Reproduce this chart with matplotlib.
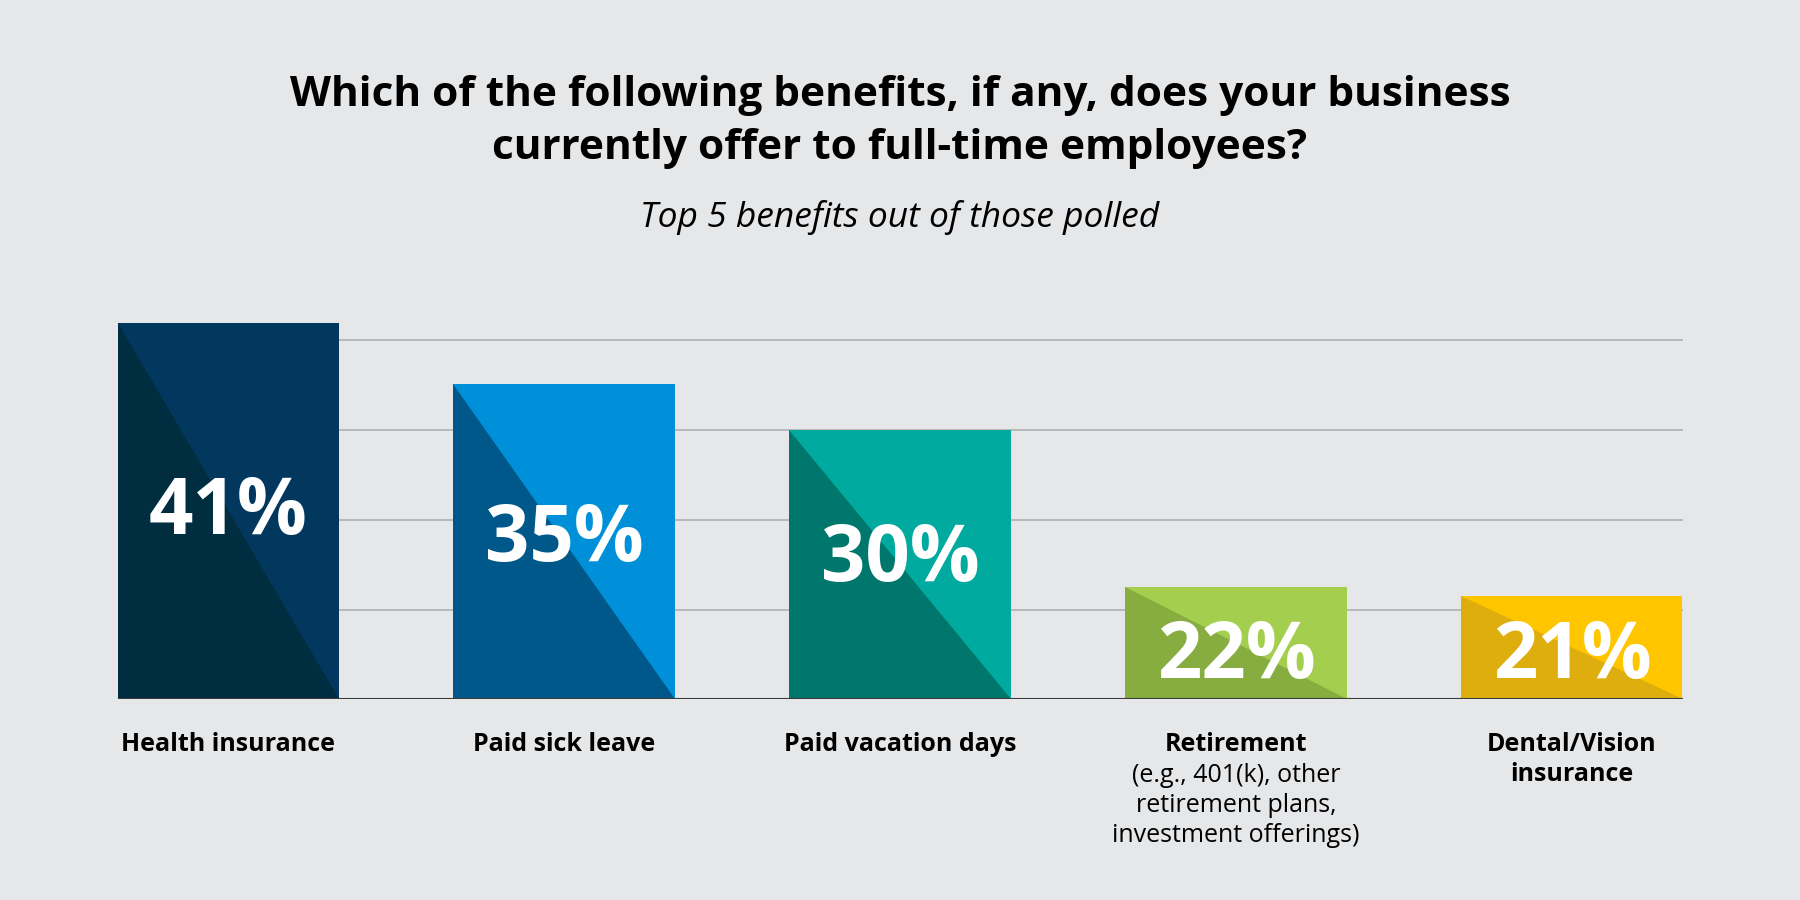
import matplotlib
matplotlib.use("Agg")
from matplotlib import pyplot as plt
from matplotlib.patches import Polygon

plt.rcParams['font.family'] = ['Open Sans', 'DejaVu Sans']

categories = ['Health insurance', 'Paid sick leave', 'Paid vacation days',
              'Retirement', 'Dental/Vision\ninsurance']
sub_labels = ['', '', '', '(e.g., 401(k), other\nretirement plans,\ninvestment offerings)', '']
values = [41, 35, 30, 22, 21]
# drawn heights (grid line every 10)
bar_heights = [41.9, 35.1, 30.0, 12.5, 11.5]
light_colors = ['#02385D', '#0090DA', '#00AA9E', '#A3CE4E', '#FFC600']
dark_colors = ['#002D40', '#00578A', '#00776C', '#87AC40', '#DEAE0E']

bg = '#E6E7E9'
fig = plt.figure(figsize=(18, 9), dpi=100, facecolor=bg)
ax = fig.add_axes([117.5 / 1800, 200.7 / 900, 1565 / 1800, 404 / 900])
ax.set_facecolor(bg)

width = 0.658
x = list(range(len(values)))
ax.set_xlim(-width / 2, x[-1] + width / 2)
ax.set_ylim(0, 45)

for g in [10, 20, 30, 40]:
    ax.axhline(g, color='#B3B4B6', lw=1.3, zorder=0)

ax.bar(x, bar_heights, width=width, color=light_colors, zorder=2)
for xi, h, dc in zip(x, bar_heights, dark_colors):
    tri = Polygon([(xi - width / 2, h), (xi - width / 2, 0), (xi + width / 2, 0)],
                  closed=True, facecolor=dc, edgecolor='none', zorder=3)
    ax.add_patch(tri)
    # baseline of the big number, short bars get it near the bottom
    ypos = h * 0.44 if h > 20 else 2.4
    ax.text(xi, ypos, f'{values[xi]}%', ha='center', va='baseline', color='white',
            fontsize=56, fontweight='bold', zorder=4)

ax.axhline(0, color='#3A3A3A', lw=1.5, zorder=5)

for xi, cat, sub in zip(x, categories, sub_labels):
    ax.annotate(cat, xy=(xi, 0), xytext=(0, -33), textcoords='offset pixels',
                ha='center', va='top', fontsize=18, fontweight='bold',
                linespacing=1.25)
    if sub:
        ax.annotate(sub, xy=(xi, 0), xytext=(0, -64), textcoords='offset pixels',
                    ha='center', va='top', fontsize=18, linespacing=1.25)

for s in ax.spines.values():
    s.set_visible(False)
ax.set_xticks([])
ax.set_yticks([])

fig.text(0.5, 1 - 106 / 900, 'Which of the following benefits, if any, does your business',
         ha='center', va='baseline', fontsize=30.5, fontweight='bold')
fig.text(0.5, 1 - 159 / 900, 'currently offer to full-time employees?',
         ha='center', va='baseline', fontsize=30.5, fontweight='bold')
fig.text(0.5, 1 - 227 / 900, 'Top 5 benefits out of those polled',
         ha='center', va='baseline', fontsize=25.5, style='italic')

fig.savefig('out.png', dpi=100, facecolor=bg)
